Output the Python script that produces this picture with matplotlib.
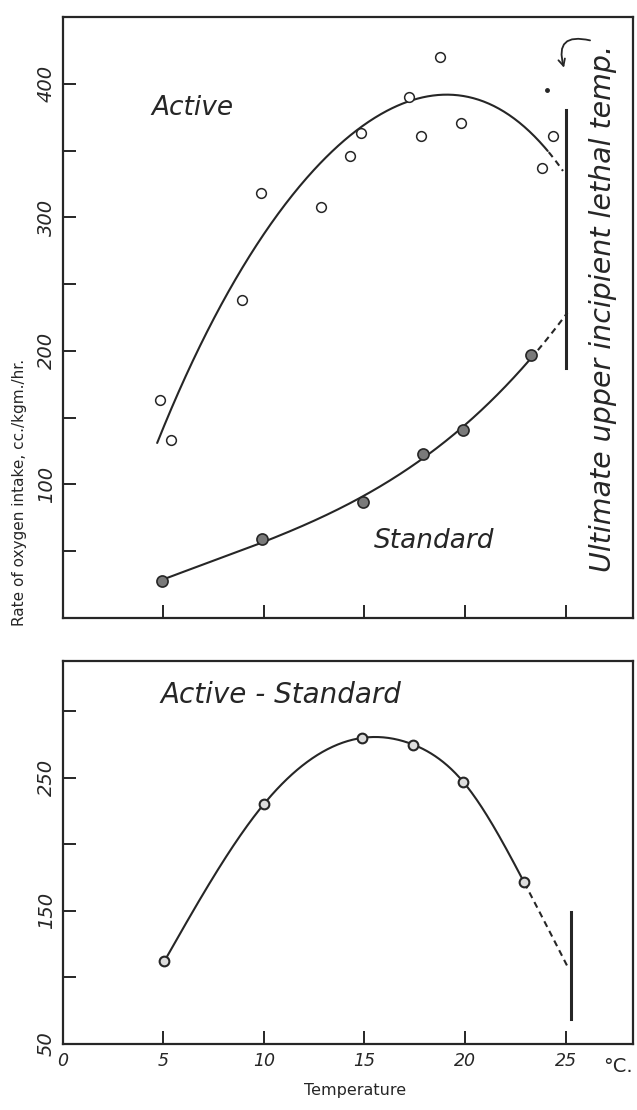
import numpy as np
import matplotlib
matplotlib.use("Agg")
import matplotlib.pyplot as plt

# ---------------- data ----------------
# Top panel: active metabolism (open circles)
active_temp = [4.85, 5.4, 8.9, 9.85, 12.85, 14.3, 14.85, 17.2, 17.8, 18.75, 19.8, 23.85, 24.35]
active_rate = [163, 133, 238, 318, 308, 346, 363, 390, 361, 420, 371, 337, 361]
# hand-drawn fitted curve for active
active_fit_temp = [4.7, 6, 8, 10, 12, 14, 16, 18, 19.5, 21, 22.5, 23.5, 24.15]
active_fit_rate = [132, 176, 237, 288, 328, 358, 379, 389, 391, 385, 375, 363, 347]
active_dash_end = (24.87, 334)

# Top panel: standard metabolism (filled circles)
standard_temp = [4.95, 9.92, 14.94, 17.92, 19.88, 23.27]
standard_rate = [28, 59, 87, 123, 141, 197]
standard_dash_end = (25.09, 227)

# Bottom panel: active - standard (scope for activity)
scope_temp = [5.05, 9.99, 14.89, 17.42, 19.91, 22.92]
scope_rate = [112, 230, 280, 275, 247, 172]
scope_dash_end = (25.17, 106)

# lethal temperature bars
lethal_top = (25.04, 187, 380)
lethal_bottom = (25.26, 69, 149)

# ticks / labels
x_ticks = [0, 5, 10, 15, 20, 25]
x_ticklabels = ["0", "5", "10", "15", "20", "25"]
top_yticks = [50, 100, 150, 200, 250, 300, 350, 400]
top_yticklabels = ["", "100", "", "200", "", "300", "", "400"]
bot_yticks = [50, 100, 150, 200, 250, 300]
bot_yticklabels = ["50", "", "150", "", "250", ""]

INK = "#262626"


def natural_spline(xk, yk, n=300):
    xk = np.asarray(xk, float)
    yk = np.asarray(yk, float)
    h = np.diff(xk)
    m = len(xk)
    M = np.zeros(m)
    if m > 2:
        A = np.zeros((m - 2, m - 2))
        r = np.zeros(m - 2)
        for i in range(m - 2):
            A[i, i] = 2 * (h[i] + h[i + 1])
            if i + 1 < m - 2:
                A[i, i + 1] = h[i + 1]
                A[i + 1, i] = h[i + 1]
            r[i] = 6 * ((yk[i + 2] - yk[i + 1]) / h[i + 1] - (yk[i + 1] - yk[i]) / h[i])
        M[1:-1] = np.linalg.solve(A, r)
    xs = np.linspace(xk[0], xk[-1], n)
    idx = np.clip(np.searchsorted(xk, xs) - 1, 0, m - 2)
    x0, x1 = xk[idx], xk[idx + 1]
    hh = x1 - x0
    a = (x1 - xs) / hh
    b = (xs - x0) / hh
    ys = a * yk[idx] + b * yk[idx + 1] + ((a ** 3 - a) * M[idx] + (b ** 3 - b) * M[idx + 1]) * hh ** 2 / 6
    return xs, ys


def poly_curve(xk, yk, deg, n=400):
    c = np.polyfit(xk, yk, deg)
    xs = np.linspace(min(xk), max(xk), n)
    return xs, np.polyval(c, xs)


def draw(ax, xs, ys, split, lw=1.5):
    solid = xs <= split
    ax.plot(xs[solid], ys[solid], color=INK, lw=lw, solid_capstyle="round")
    dashed = xs >= split
    ax.plot(xs[dashed], ys[dashed], color=INK, lw=lw, ls=(0, (3, 2.2)))


W, H = 637, 1110
fig = plt.figure(figsize=(W / 100, H / 100), dpi=100)
fig.patch.set_facecolor("white")

xl = (0, 28.35)
ax1 = fig.add_axes([62.6 / W, 1 - 618 / H, (633 - 62.6) / W, (618 - 17) / H])
ax2 = fig.add_axes([62.6 / W, 1 - 1044 / H, (633 - 62.6) / W, (1044 - 660.7) / H])

for ax in (ax1, ax2):
    ax.set_xlim(*xl)
    for s in ax.spines.values():
        s.set_linewidth(1.6)
        s.set_color(INK)
    ax.tick_params(direction="in", length=9.5, width=1.4, color=INK, labelcolor=INK)
    ax.set_xticks(x_ticks)

# ---------------- top panel ----------------
ax1.set_ylim(0, 450)
ax1.set_xticklabels([])
ax1.set_yticks(top_yticks)
ax1.set_yticklabels(top_yticklabels, rotation=90, va="center", fontsize=14, style="italic")
ax1.tick_params(axis="y", pad=5)

xs, ys = poly_curve(active_fit_temp + [active_dash_end[0]], active_fit_rate + [active_dash_end[1]], 4)
draw(ax1, xs, ys, active_fit_temp[-1])
ax1.plot(active_temp, active_rate, ls="none", marker="o", ms=7, mfc="white", mec=INK, mew=1.1)

xs, ys = poly_curve(standard_temp + [standard_dash_end[0]], standard_rate + [standard_dash_end[1]], 3)
draw(ax1, xs, ys, standard_temp[-1])
ax1.plot(standard_temp, standard_rate, ls="none", marker="o", ms=8, mfc="#7a7a7a", mec=INK, mew=1.2)

ax1.plot([lethal_top[0]] * 2, lethal_top[1:], color=INK, lw=2.2)
ax1.plot([24.1], [395], ls="none", marker="o", ms=2.5, color=INK)
ax1.annotate("", xy=(24.96, 410), xytext=(26.35, 432),
             arrowprops=dict(arrowstyle="->", color=INK, lw=1.3,
                             connectionstyle="arc3,rad=0.9", mutation_scale=12))

ax1.text(6.43, 382, "Active", fontsize=19, style="italic", ha="center", va="center", color=INK)
ax1.text(18.45, 58, "Standard", fontsize=19, style="italic", ha="center", va="center", color=INK)
ax1.text(26.85, 232, "Ultimate upper incipient lethal temp.", fontsize=20.5, style="italic",
         rotation=90, ha="center", va="center", color=INK)

# ---------------- bottom panel ----------------
ax2.set_ylim(50, 338)
ax2.set_xticklabels(x_ticklabels, fontsize=12.5, style="italic")
ax2.tick_params(axis="x", pad=6)
ax2.set_yticks(bot_yticks)
ax2.set_yticklabels(bot_yticklabels, rotation=90, va="center", fontsize=14, style="italic")
ax2.tick_params(axis="y", pad=5)

xs, ys = natural_spline(scope_temp + [scope_dash_end[0]], scope_rate + [scope_dash_end[1]], 400)
draw(ax2, xs, ys, scope_temp[-1])
ax2.plot(scope_temp, scope_rate, ls="none", marker="o", ms=7, mfc="#dddddd", mec=INK, mew=1.5)
ax2.plot([lethal_bottom[0]] * 2, lethal_bottom[1:], color=INK, lw=2.2)

ax2.text(10.85, 312, "Active - Standard", fontsize=20, style="italic", ha="center", va="center", color=INK)
ax2.annotate("°C.", xy=(27.6, 0), xycoords=("data", "axes fraction"), xytext=(0, -16),
             textcoords="offset points", ha="center", va="center", fontsize=14, color=INK)

fig.text(355 / W, 1 - 1090 / H, "Temperature", fontsize=11.5, ha="center", va="center", color=INK)
fig.text(20 / W, 1 - 492 / H, "Rate of oxygen intake, cc./kgm./hr.", fontsize=11, rotation=90,
         ha="center", va="center", color=INK)

fig.savefig("out.png", dpi=100, facecolor="white")
